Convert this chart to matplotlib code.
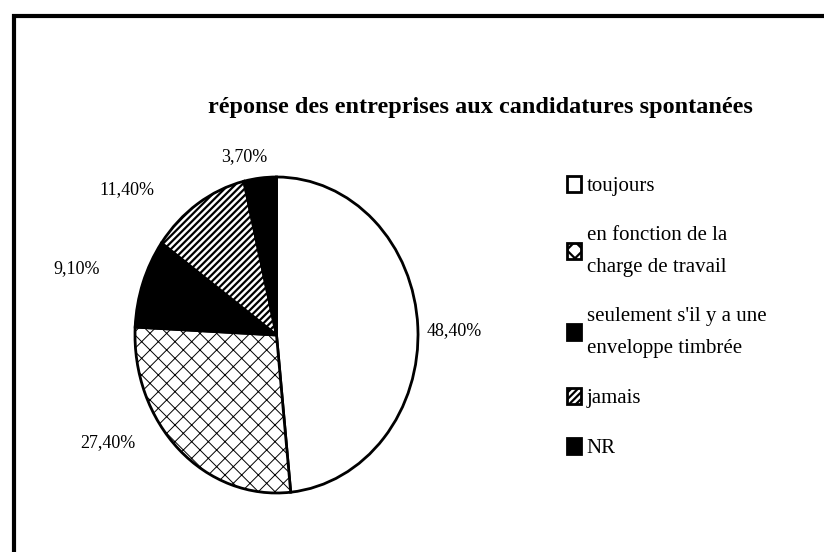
import numpy as np
import matplotlib
matplotlib.use("Agg")
import matplotlib.pyplot as plt
from matplotlib.patches import Rectangle

# ---- data ----
categories = ["toujours",
              "en fonction de la\ncharge de travail",
              "seulement s'il y a une\nenveloppe timbrée",
              "jamais",
              "NR"]
values = [48.4, 27.4, 9.1, 11.4, 3.7]
pct_labels = ["48,40%", "27,40%", "9,10%", "11,40%", "3,70%"]
title = "réponse des entreprises aux candidatures spontanées"

# ---- styles ----
faces = ["white", "white", "black", "white", "black"]
hatches = [None, "xx", None, "/////", None]
hatch_lw = [1.0, 0.7, 1.0, 1.6, 1.0]
label_dist = [1.26, 1.37, 1.47, 1.40, 1.15]
label_rot = [-1.5, -16.7, 2.7, 15.0, 4.8]

plt.rcParams["font.family"] = ["Liberation Serif", "DejaVu Serif"]
plt.rcParams["hatch.linewidth"] = 1.6

W, H = 824, 552
fig = plt.figure(figsize=(W / 100, H / 100), dpi=100)

# frame (top and left edges visible)
fig.patches.append(Rectangle((14 / W, -0.05), 1.2, (H - 16) / H + 0.05,
                             transform=fig.transFigure, fill=False,
                             edgecolor="black", linewidth=3))

fig.text(480 / W, 1 - 108 / H, title, ha="center", va="center",
         fontsize=17.5, fontweight="bold")

ax = fig.add_axes([135 / W, 1 - 493 / H, 283 / W, 316 / H])
wedges, _ = ax.pie(values, startangle=90, counterclock=False,
                   colors=faces,
                   wedgeprops=dict(edgecolor="black", linewidth=2))
for w, h, hl in zip(wedges, hatches, hatch_lw):
    if h:
        w.set_hatch(h)
        if hasattr(w, "set_hatch_linewidth"):
            w.set_hatch_linewidth(hl)
ax.set_aspect("auto")
ax.set_xlim(-1.0, 1.0)
ax.set_ylim(-1.0, 1.0)

for w, lab, d, r in zip(wedges, pct_labels, label_dist, label_rot):
    th = np.deg2rad((w.theta1 + w.theta2) / 2 + r)
    ax.text(d * np.cos(th), d * np.sin(th), lab, ha="center", va="center",
            fontsize=13, clip_on=False)

leg = fig.legend(wedges, categories, loc="upper left",
                 bbox_to_anchor=(548 / W, 1 - 157 / H), frameon=False,
                 fontsize=15, labelspacing=1.45, handlelength=0.7,
                 handleheight=0.8, handletextpad=0.25)
for t in leg.get_texts():
    t.set_linespacing(1.9)
for p in leg.get_patches():
    p.set_linewidth(2)

fig.savefig("out.png", dpi=100)
